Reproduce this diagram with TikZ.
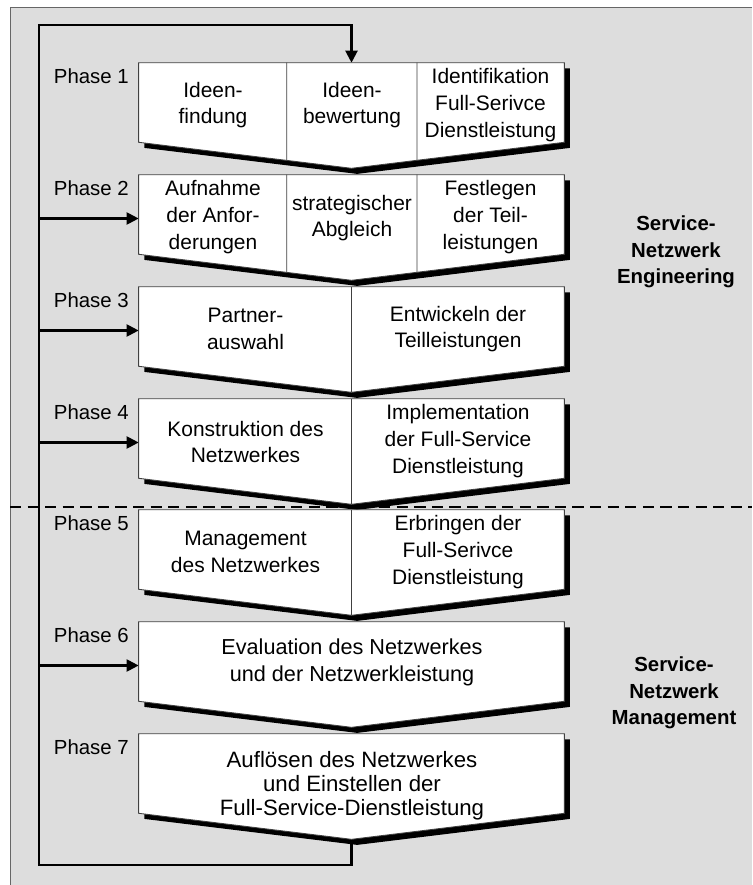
\documentclass[tikz,border=0pt]{standalone}
\usepackage{fontspec}
\setmainfont{Liberation Sans}
\usetikzlibrary{calc,shadows,arrows.meta}

\definecolor{panelgray}{HTML}{DDDDDD}

\begin{document}
\begin{tikzpicture}[
		x=0.025cm, y=-0.025cm,
		phase/.style={rectangle, draw=none, minimum width=10.625cm, minimum height=1.975cm, inner sep=0pt},
		chevron/.style={draw=black!75, line width=0.6pt, fill=white,
			drop shadow={shadow xshift=0.14cm, shadow yshift=-0.14cm, fill=black, opacity=1}},
		divider/.style={draw=black!75, line width=0.6pt},
		txt/.style={align=center, inner sep=0pt, font=\fontsize{14.9}{19}\selectfont},
		lbl/.style={anchor=north east, inner sep=0pt, font=\fontsize{14.5}{19}\selectfont},
		sidelabel/.style={align=center, inner sep=0pt, font=\fontsize{14.5}{19}\selectfont\bfseries},
		backline/.style={line width=1.5pt},
		feed/.style={line width=1.5pt, -{Triangle[length=0.3cm, width=0.3cm]}},
		]
		\useasboundingbox (0,0) rectangle (752,885);

		%Panel
		\fill[panelgray] (10,7) rectangle (752,885);
		\draw[black!60, line width=0.5pt] (10,885) -- (10,7) -- (752,7);
		\draw[line width=1.9pt, dash pattern=on 8 off 4.5] (10,507) -- (752,507);

		%Phase Nodes
		\foreach \i/\top in {1/63, 2/175, 3/287, 4/399, 5/510, 6/622, 7/734}{
			\node[phase]	(p\i)	at (351.5,\top+39.5)	{};
			\coordinate		(t\i)	at ($(p\i.south)+(0,26)$);
			\node[lbl]		(ph\i)	at (129,\top+5)		{Phase \i};
		}

		%Loop
		\coordinate (topleft) at (39,25);
		\coordinate (botleft) at (39,865);
		\draw[backline, -{Triangle[length=0.3cm, width=0.3cm]}]
			(t7) -- (t7 |- botleft) -- (botleft) -- (topleft) -- (topleft -| p1.north) -- (p1.north);
		\foreach \i in {2,3,4,6}
			\draw[feed]	($(topleft |- p\i.west)+(0,4)$) -- ($(p\i.west)+(0,4)$);

		%Chevrons
		\foreach \i in {1,...,7}
			\draw[chevron] (p\i.north west) -- (p\i.north east) -- (p\i.south east) -- (t\i) -- (p\i.south west) -- cycle;
		\foreach \i in {1,2}{
			\draw[divider] ($(p\i.north west)!0.348!(p\i.north east)$) -- ($(p\i.south west)!0.696!(t\i)$);
			\draw[divider] ($(p\i.north east)!0.346!(p\i.north west)$) -- ($(p\i.south east)!0.692!(t\i)$);
		}
		\foreach \i in {3,4,5}
			\draw[divider] (p\i.north) -- (t\i);

		%Phase 1
		\node[txt]	(find)		at ($(p1.center)+(-138.5,2.5)$)	{Ideen-\\findung};
		\node[txt]	(rate)		at ($(p1.center)+(0.5,2.5)$)		{Ideen-\\bewertung};
		\node[txt]	(ident)		at ($(p1.center)+(139,2.5)$)		{Identifikation\\Full-Serivce\\Dienstleistung};

		%Phase 2
		\node[txt]	(require)	at ($(p2.center)+(-138.5,2.5)$)	{Aufnahme\\der Anfor-\\derungen};
		\node[txt]	(strat)		at ($(p2.center)+(0.5,3.5)$)		{strategischer\\Abgleich};
		\node[txt]	(define)	at ($(p2.center)+(139,2.5)$)		{Festlegen\\der Teil-\\leistungen};

		%Phase 3
		\node[txt]	(partner)	at ($(p3.center)+(-106,2.5)$)		{Partner-\\auswahl};
		\node[txt]	(develop)	at ($(p3.center)+(106.5,2.5)$)	{Entwickeln der\\Teilleistungen};

		%Phase 4
		\node[txt]	(build)		at ($(p4.center)+(-106,3.5)$)		{Konstruktion des\\Netzwerkes};
		\node[txt]	(implement)	at ($(p4.center)+(106.5,2.5)$)	{Implementation\\der Full-Service\\Dienstleistung};

		%Phase 5
		\node[txt]	(manage)	at ($(p5.center)+(-106,2.5)$)		{Management\\des Netzwerkes};
		\node[txt]	(deliver)	at ($(p5.center)+(106.5,2.5)$)	{Erbringen der\\Full-Serivce\\Dienstleistung};

		%Phase 6 and 7
		\node[txt, font=\fontsize{15.4}{19.2}\selectfont]	(evaluate)	at ($(p6.center)+(0.5,0.5)$)
			{Evaluation des Netzwerkes\\und der Netzwerkleistung};
		\node[txt, font=\fontsize{15.8}{17.2}\selectfont]	(dissolve)	at ($(p7.center)+(0.5,12)$)
			{Auflösen des Netzwerkes\\und Einstellen der\\Full-Service-Dienstleistung};

		%Sections
		\node[sidelabel]	(engineering)	at (676,252)	{Service-\\Netzwerk\\Engineering};
		\node[sidelabel]	(management)	at (674,693)	{Service-\\Netzwerk\\Management};

	\end{tikzpicture}
\end{document}
